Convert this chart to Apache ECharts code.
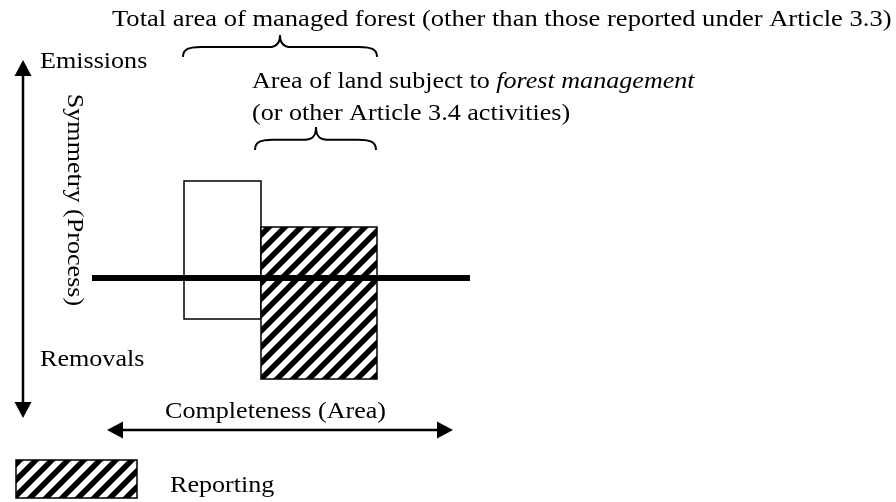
<!DOCTYPE html>
<html>
<head>
<meta charset="utf-8">
<script src="https://cdn.jsdelivr.net/npm/echarts@6/dist/echarts.min.js"></script>
<style>
html,body{margin:0;padding:0;background:#fff;}
#chart{width:896px;height:502px;}
</style>
</head>
<body>
<div id="chart"></div>
<script>
// ---- data (diagram units: x = area extent, y = emissions(+)/removals(-)) ----
const categories = ['Total managed forest', 'Forest management (reported)'];
const areaStart = [184, 261];
const areaEnd = [261, 377];
const emissionsTop = [97, 51];
const removalsBottom = [-41, -101];
const hatched = [false, true];

// zero line (balance between emissions and removals)
const zeroLineX = [92, 470];
// symmetry axis (vertical double arrow) and completeness axis (horizontal double arrow)
const symmetryArrowX = 23;
const symmetryArrowY = [218, -140];
const completenessArrowX = [107, 453];
const completenessArrowY = -152;
// braces: [xStart, xEnd, xTip, yEnds, yTip]
const braceXStart = [183, 255];
const braceXEnd = [377, 376];
const braceXTip = [280, 316];
const braceYEnds = [221, 128];
const braceYTip = [243, 151];
// legend swatch
const legendX = [16, 137];
const legendY = [-182, -220];

const labels = {
  title: 'Total area of managed forest (other than those reported under Article 3.3)',
  emissions: 'Emissions',
  removals: 'Removals',
  symmetry: 'Symmetry (Process)',
  completeness: 'Completeness (Area)',
  reporting: 'Reporting',
  areaLine1: 'Area of land subject to ',
  areaItalic: 'forest management',
  areaLine2: '(or other Article 3.4 activities)'
};

// ---- hatch pattern ----
const pc = document.createElement('canvas');
pc.width = 16; pc.height = 16;
const g = pc.getContext('2d');
g.fillStyle = '#fff'; g.fillRect(0, 0, 16, 16);
g.strokeStyle = '#000'; g.lineWidth = 5.5; g.lineCap = 'square';
[[-4, 4, 4, -4], [-4, 20, 20, -4], [12, 20, 20, 12]].forEach(function (s) {
  g.beginPath(); g.moveTo(s[0], s[1]); g.lineTo(s[2], s[3]); g.stroke();
});
const hatch = { image: pc, repeat: 'repeat' };

const chart = echarts.init(document.getElementById('chart'), null, { renderer: 'canvas' });

const FAMILY = 'Liberation Serif';
const FS = 22.5;
const SX = 1.16;

function txt(x, y, text, extra) {
  return Object.assign({
    type: 'text', x: x, y: y, scaleX: SX,
    style: { text: text, fill: '#000', fontFamily: FAMILY, fontSize: FS, verticalAlign: 'middle', align: 'left' }
  }, extra || {});
}

const option = {
  animation: false,
  backgroundColor: '#fff',
  grid: { left: 0, right: 0, top: 0, bottom: 0 },
  xAxis: { type: 'value', min: 0, max: 896, show: false },
  yAxis: { type: 'value', min: -224, max: 278, show: false },
  series: [
    {
      type: 'custom', name: 'areas', z: 2,
      data: categories.map(function (c, i) { return [areaStart[i], areaEnd[i], emissionsTop[i], removalsBottom[i], hatched[i] ? 1 : 0]; }),
      renderItem: function (params, api) {
        const p0 = api.coord([api.value(0), api.value(2)]);
        const p1 = api.coord([api.value(1), api.value(3)]);
        return {
          type: 'rect',
          shape: { x: p0[0], y: p0[1], width: p1[0] - p0[0], height: p1[1] - p0[1] },
          style: { fill: api.value(4) ? hatch : '#fff', stroke: '#000', lineWidth: 1.5 }
        };
      }
    },
    {
      type: 'custom', name: 'legend', z: 2,
      data: [[legendX[0], legendX[1], legendY[0], legendY[1]]],
      renderItem: function (params, api) {
        const p0 = api.coord([api.value(0), api.value(2)]);
        const p1 = api.coord([api.value(1), api.value(3)]);
        return {
          type: 'rect',
          shape: { x: p0[0], y: p0[1], width: p1[0] - p0[0], height: p1[1] - p0[1] },
          style: { fill: hatch, stroke: '#000', lineWidth: 1.5 }
        };
      }
    },
    {
      type: 'custom', name: 'zero', z: 3,
      data: [[zeroLineX[0], zeroLineX[1], 0]],
      renderItem: function (params, api) {
        const a = api.coord([api.value(0), api.value(2)]);
        const b = api.coord([api.value(1), api.value(2)]);
        return { type: 'line', shape: { x1: a[0], y1: a[1], x2: b[0], y2: b[1] }, style: { stroke: '#000', lineWidth: 6 } };
      }
    },
    {
      type: 'custom', name: 'arrows', z: 3,
      data: [
        [symmetryArrowX, symmetryArrowY[0], symmetryArrowX, symmetryArrowY[1]],
        [completenessArrowX[0], completenessArrowY, completenessArrowX[1], completenessArrowY]
      ],
      renderItem: function (params, api) {
        const a = api.coord([api.value(0), api.value(1)]);
        const b = api.coord([api.value(2), api.value(3)]);
        const dx = b[0] - a[0], dy = b[1] - a[1];
        const L = Math.sqrt(dx * dx + dy * dy);
        const ux = dx / L, uy = dy / L, nx = -uy, ny = ux;
        const hl = 16, hw = 8.5;
        function head(tip, dir) {
          const bx = tip[0] - dir * ux * hl, by = tip[1] - dir * uy * hl;
          return {
            type: 'polygon',
            shape: { points: [tip, [bx + nx * hw, by + ny * hw], [bx - nx * hw, by - ny * hw]] },
            style: { fill: '#000' }
          };
        }
        return {
          type: 'group',
          children: [
            { type: 'line', shape: { x1: a[0] + ux * 8, y1: a[1] + uy * 8, x2: b[0] - ux * 8, y2: b[1] - uy * 8 }, style: { stroke: '#000', lineWidth: 2.5 } },
            head(a, -1), head(b, 1)
          ]
        };
      }
    },
    {
      type: 'custom', name: 'braces', z: 3,
      data: braceXStart.map(function (x, i) { return [x, braceXEnd[i], braceXTip[i], braceYEnds[i], braceYTip[i]]; }),
      renderItem: function (params, api) {
        const s = api.coord([api.value(0), api.value(3)]);
        const e = api.coord([api.value(1), api.value(3)]);
        const t = api.coord([api.value(2), api.value(4)]);
        const yh = s[1] + (t[1] - s[1]) * 0.45;
        const r = 18;
        const d = [
          'M', s[0], s[1],
          'C', s[0], yh + 3, s[0] + 4, yh, s[0] + r, yh,
          'L', t[0] - 11, yh,
          'C', t[0] - 4, yh, t[0], yh - 3, t[0], t[1],
          'C', t[0], yh - 3, t[0] + 4, yh, t[0] + 11, yh,
          'L', e[0] - r, yh,
          'C', e[0] - 4, yh, e[0], yh + 3, e[0], e[1]
        ].join(' ');
        return { type: 'path', shape: { pathData: d }, style: { fill: null, stroke: '#000', lineWidth: 2 } };
      }
    }
  ],
  graphic: [
    txt(112, 20.5, labels.title, { scaleX: 1.18 }),
    txt(40, 62.5, labels.emissions),
    {
      type: 'text', x: 252, y: 82.5, scaleX: SX,
      style: {
        text: '{n|' + labels.areaLine1 + '}{i|' + labels.areaItalic + '}',
        verticalAlign: 'middle', align: 'left', fill: '#000',
        fontFamily: FAMILY, fontSize: FS,
        rich: {
          n: { fontFamily: FAMILY, fontSize: FS, fill: '#000' },
          i: { fontFamily: FAMILY, fontSize: FS, fontStyle: 'italic', fill: '#000' }
        }
      }
    },
    txt(252, 114, labels.areaLine2),
    txt(40, 360, labels.removals),
    txt(165, 412.5, labels.completeness),
    txt(170, 486, labels.reporting),
    {
      type: 'text', x: 74, y: 200, rotation: -Math.PI / 2, scaleX: SX,
      style: { text: labels.symmetry, fill: '#000', fontFamily: FAMILY, fontSize: FS, verticalAlign: 'middle', align: 'center' }
    }
  ]
};
chart.setOption(option);
</script>
</body>
</html>
